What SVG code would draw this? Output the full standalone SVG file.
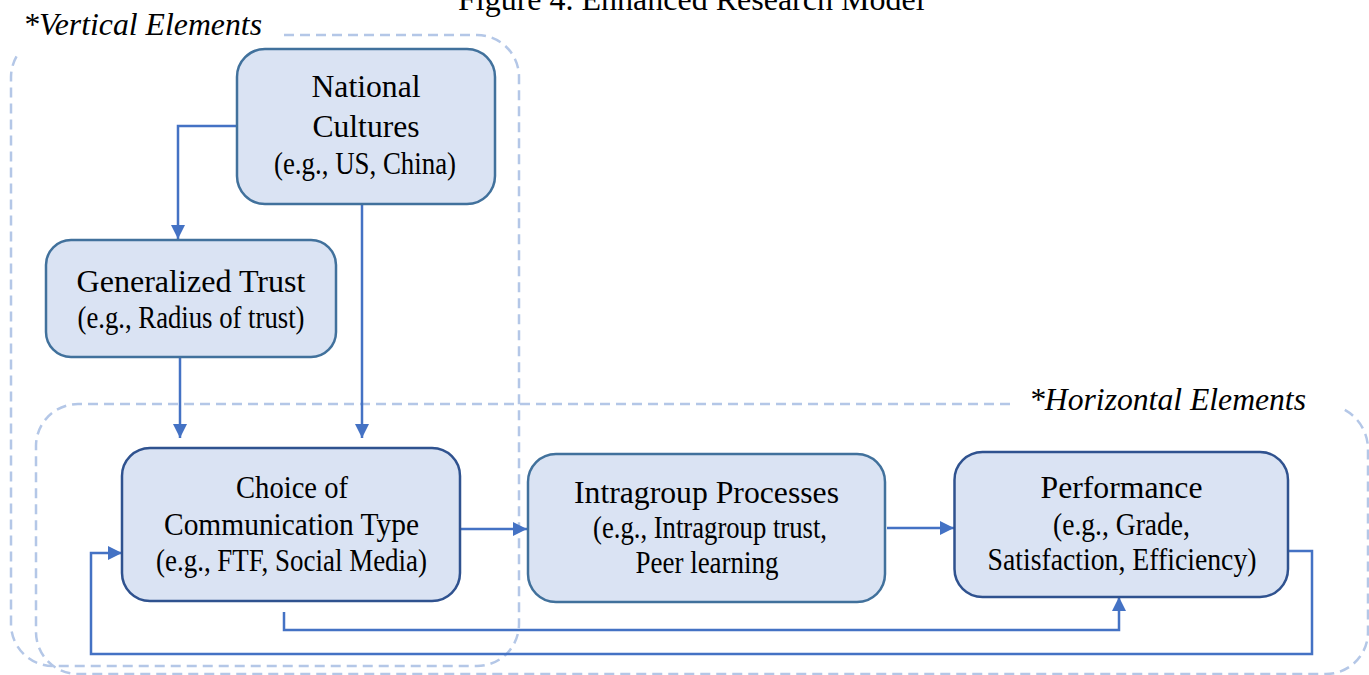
<svg xmlns="http://www.w3.org/2000/svg" width="1369" height="675" viewBox="0 0 1369 675">
<style>
.bg{fill:#ffffff}
.grp{fill:none;stroke:#b4c7e7;stroke-width:2.5;stroke-dasharray:10 6}
.box{fill:#dae3f3;stroke:#41719c;stroke-width:2.5}
.box2{fill:#dae3f3;stroke:#2f528f;stroke-width:2.5}
.t{font-family:"Liberation Serif","Times New Roman",serif;font-size:31px;fill:#000;text-anchor:middle}
.lbl{font-family:"Liberation Serif","Times New Roman",serif;font-size:31px;font-style:italic;fill:#000}
.title{font-family:"Liberation Serif","Times New Roman",serif;font-size:32px;fill:#000}
.conn{fill:none;stroke:#4472c4;stroke-width:2.5}
</style>
<defs>
<marker id="arr" markerUnits="userSpaceOnUse" markerWidth="15" markerHeight="15" refX="14" refY="7" orient="auto">
<path d="M0,0 L14,7 L0,14 z" fill="#4472c4"/>
</marker>
</defs>
<rect class="bg" x="0" y="0" width="1369" height="675"/>
<text class="title" x="458" y="10">Figure 4. Enhanced Research Model</text>

<g id="group-vertical">
<path class="grp" d="M284,35 H477 A42,42 0 0 1 519,77 V624 A42,42 0 0 1 477,666 H53 A42,42 0 0 1 11,624 V77 A42,42 0 0 1 19.5,52"/>
<text class="lbl" x="23" y="35" textLength="239" lengthAdjust="spacingAndGlyphs">*Vertical Elements</text>
</g>
<g id="group-horizontal">
<path class="grp" d="M1010,404 H78 A42,42 0 0 0 36,446 V632 A42,42 0 0 0 78,674 H1326 A42,42 0 0 0 1368,632 V449 A45,45 0 0 0 1343,409"/>
<text class="lbl" x="1029" y="410" textLength="277" lengthAdjust="spacingAndGlyphs">*Horizontal Elements</text>
</g>

<g id="connectors">
<path class="conn" d="M236,126 H178 V239" marker-end="url(#arr)"/>
<path class="conn" d="M362,204 V438" marker-end="url(#arr)"/>
<path class="conn" d="M180,357 V438" marker-end="url(#arr)"/>
<path class="conn" d="M461,529 H527" marker-end="url(#arr)"/>
<path class="conn" d="M887,528 H954" marker-end="url(#arr)"/>
<path class="conn" d="M284,612 V630 H1119 V597" marker-end="url(#arr)"/>
<path class="conn" d="M1288,551 H1312 V654 H91 V553 H122" marker-end="url(#arr)"/>
</g>

<g id="node-national-cultures">
<rect class="box" x="237" y="49" width="258" height="155" rx="28"/>
<text class="t" x="366" y="97" textLength="109" lengthAdjust="spacingAndGlyphs">National</text>
<text class="t" x="366" y="137" textLength="107" lengthAdjust="spacingAndGlyphs">Cultures</text>
<text class="t" x="365" y="174" textLength="182" lengthAdjust="spacingAndGlyphs">(e.g., US, China)</text>
</g>

<g id="node-generalized-trust">
<rect class="box" x="46" y="240" width="290" height="117" rx="25"/>
<text class="t" x="191" y="292" textLength="229" lengthAdjust="spacingAndGlyphs">Generalized Trust</text>
<text class="t" x="191" y="328" textLength="227" lengthAdjust="spacingAndGlyphs">(e.g., Radius of trust)</text>
</g>

<g id="node-choice">
<rect class="box2" x="122" y="448" width="338" height="153" rx="28"/>
<text class="t" x="292" y="498" textLength="112" lengthAdjust="spacingAndGlyphs">Choice of</text>
<text class="t" x="291.5" y="535" textLength="255" lengthAdjust="spacingAndGlyphs">Communication Type</text>
<text class="t" x="291.5" y="571" textLength="271" lengthAdjust="spacingAndGlyphs">(e.g., FTF, Social Media)</text>
</g>

<g id="node-intragroup">
<rect class="box" x="528" y="454" width="357" height="148" rx="28"/>
<text class="t" x="706.5" y="503" textLength="265" lengthAdjust="spacingAndGlyphs">Intragroup Processes</text>
<text class="t" x="710" y="538" textLength="234" lengthAdjust="spacingAndGlyphs">(e.g., Intragroup trust,</text>
<text class="t" x="707" y="573" textLength="143" lengthAdjust="spacingAndGlyphs">Peer learning</text>
</g>

<g id="node-performance">
<rect class="box2" x="954.5" y="452" width="333.5" height="145" rx="28"/>
<text class="t" x="1121.5" y="498" textLength="162" lengthAdjust="spacingAndGlyphs">Performance</text>
<text class="t" x="1121.5" y="535" textLength="137" lengthAdjust="spacingAndGlyphs">(e.g., Grade,</text>
<text class="t" x="1122" y="570" textLength="269" lengthAdjust="spacingAndGlyphs">Satisfaction, Efficiency)</text>
</g>
</svg>
